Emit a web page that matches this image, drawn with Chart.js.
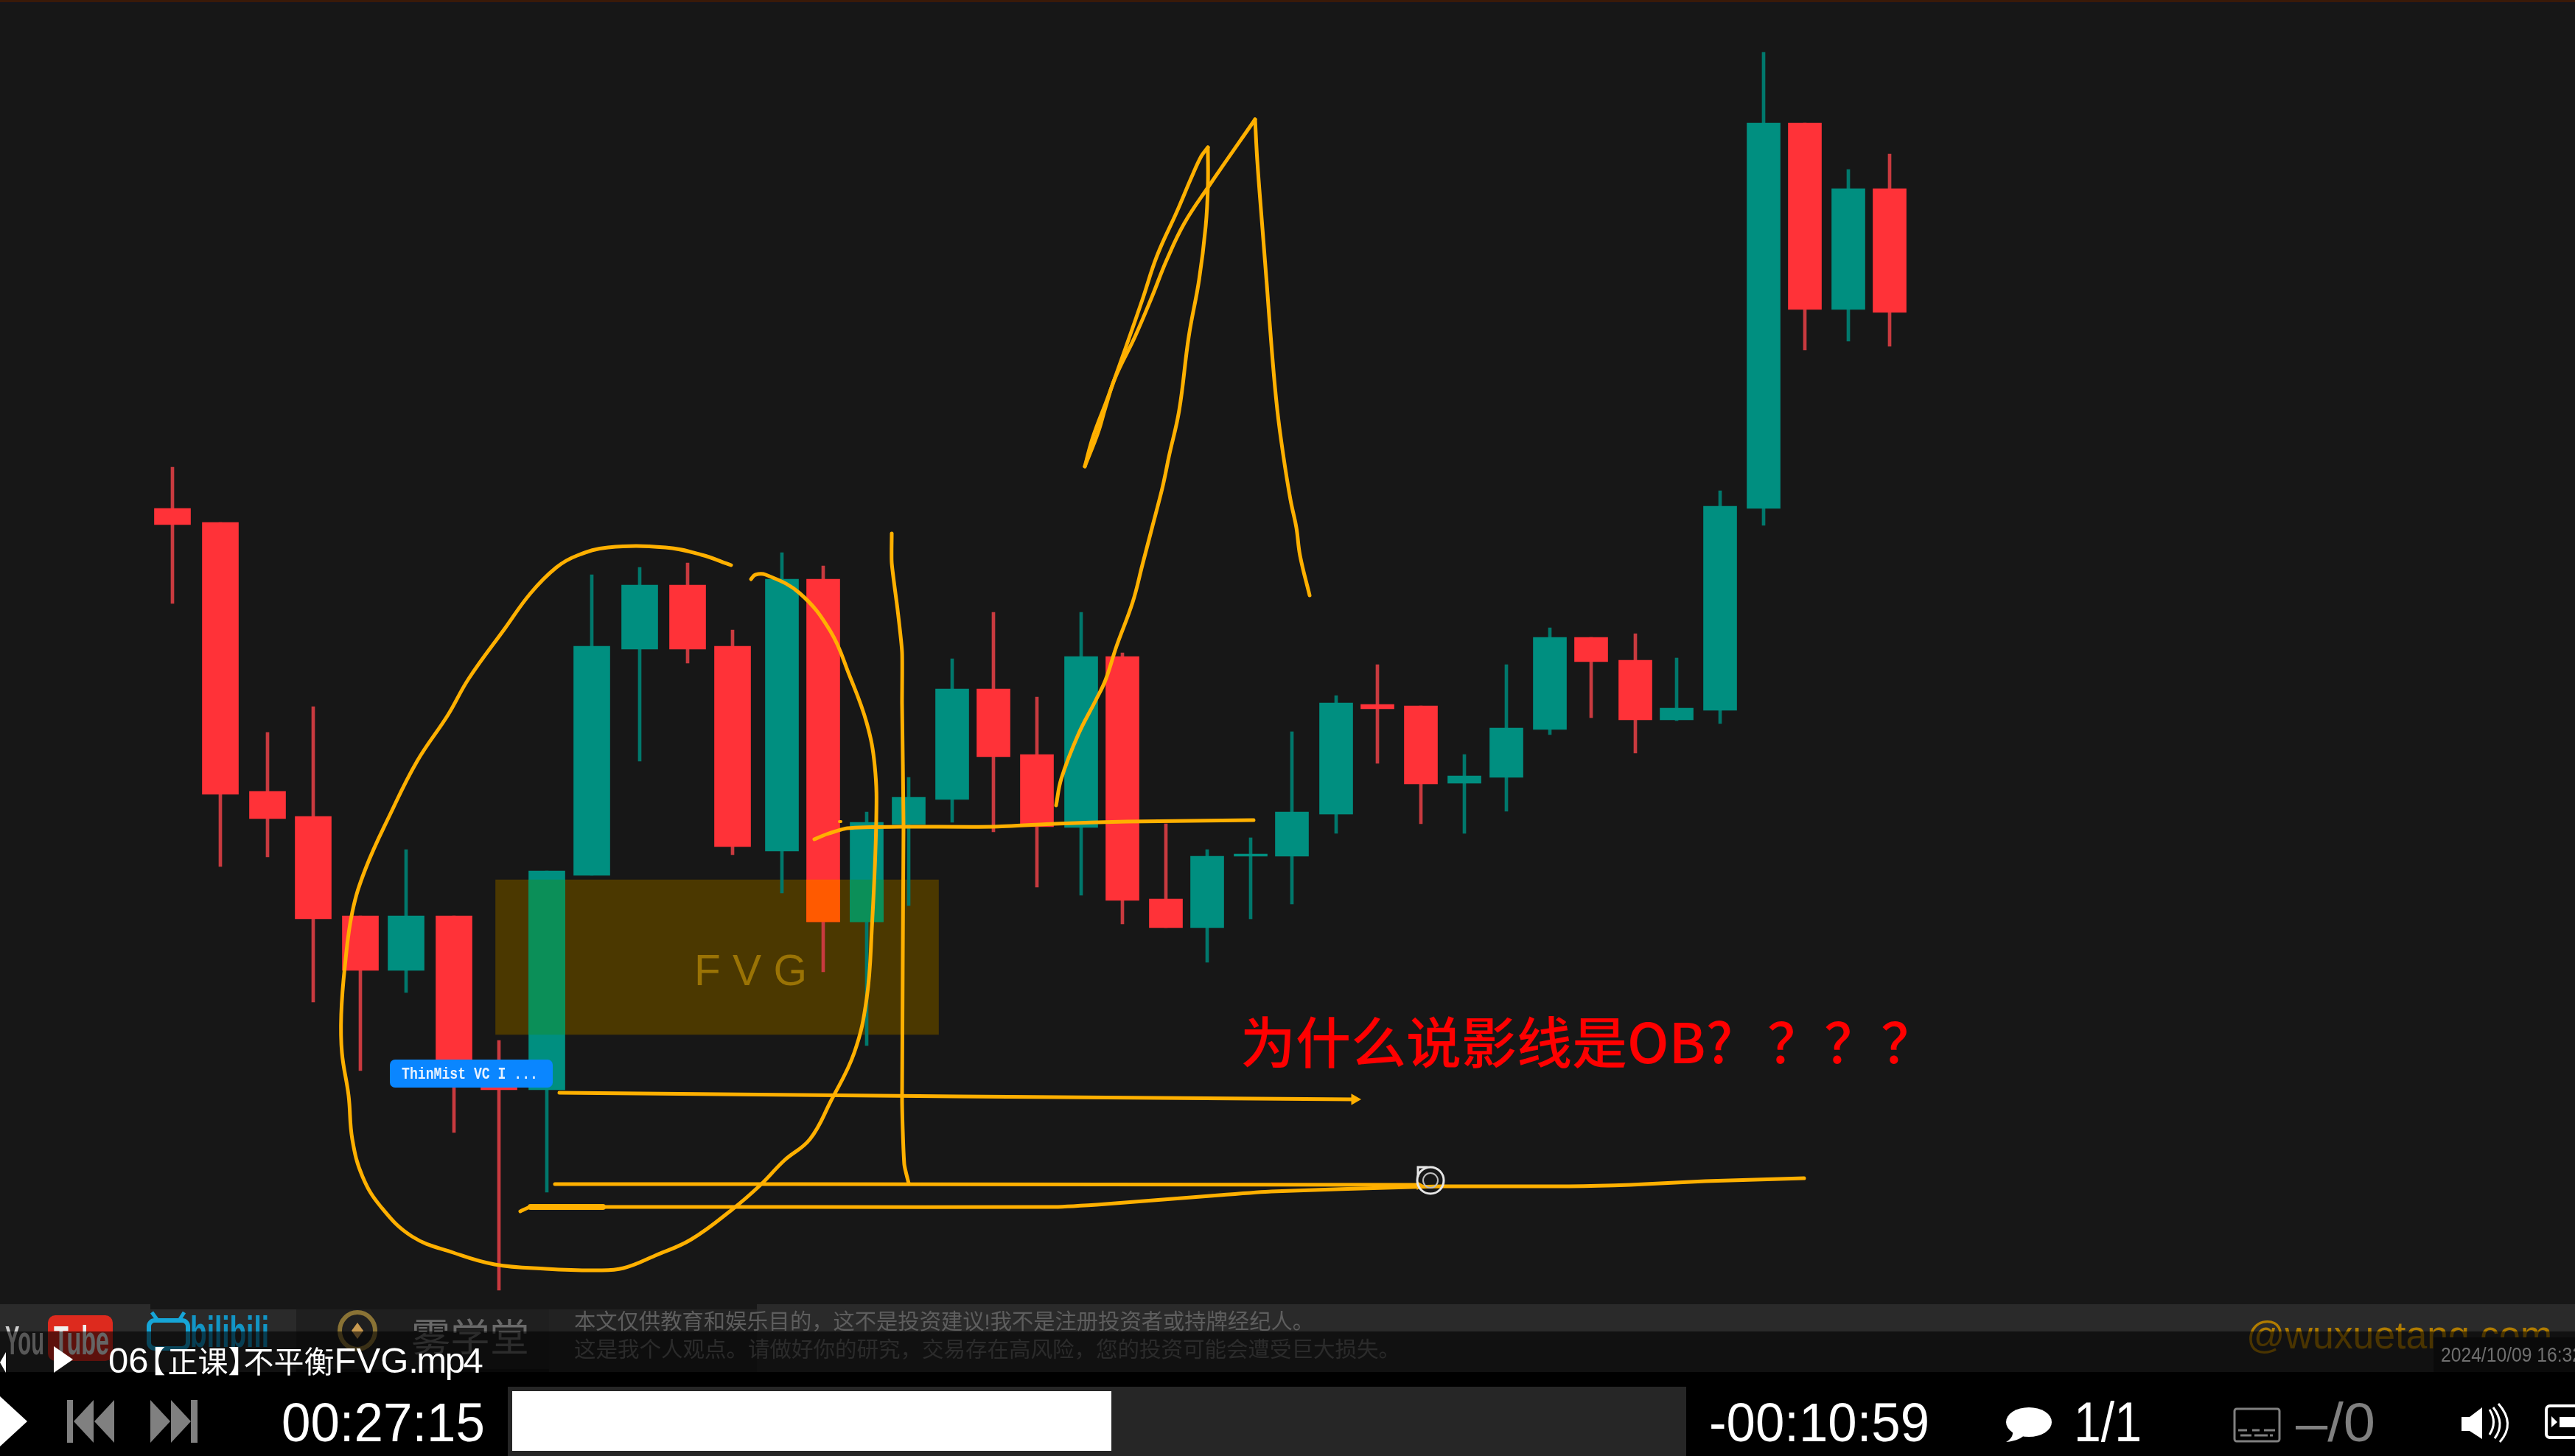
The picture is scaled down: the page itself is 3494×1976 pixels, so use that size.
<!DOCTYPE html>
<html lang="zh">
<head>
    <meta charset="UTF-8">
    <title>06【正课】不平衡FVG</title>
    <script src="https://cdn.jsdelivr.net/npm/chart.js@4/dist/chart.umd.js"></script>
    <style>
        html, body { margin: 0; padding: 0; background: #171717; overflow: hidden; width: 3494px; height: 1976px; }
        #kline { position: absolute; left: 0; top: 0; }
        #player { position: absolute; left: 0; top: 0; }
        #player text { font-family: "Liberation Sans", "Noto Sans CJK SC", sans-serif; }
    </style>
</head>
<body>
    <canvas id="kline" width="3494" height="1976"></canvas>

    <svg id="player" width="3494" height="1976" viewBox="0 0 3494 1976">
        <rect x="0" y="0" width="3494" height="3" fill="#3a1a08"/>
        <rect x="0" y="3" width="3494" height="2" fill="#14161e"/>

        <!-- labels on the chart -->
        <text x="942" y="1337" font-size="60" fill="#9a7305" textLength="153" lengthAdjust="spacingAndGlyphs">F V G</text>
        <text x="1683" y="1443" font-size="75" font-weight="500" fill="#ff0000" style="font-family:'Noto Sans CJK SC',sans-serif">为什么说影线是OB?<tspan x="2398" letter-spacing="2">？？？</tspan></text>
        <rect x="529" y="1438" width="221" height="38" rx="7" fill="#0a86ff"/>
        <text x="545" y="1464" font-size="22" font-weight="bold" fill="#e8f2ff" textLength="185" lengthAdjust="spacingAndGlyphs" style="font-family:'Liberation Mono',monospace">ThinMist VC I ...</text>
        <ellipse cx="1941" cy="1602" rx="18" ry="18" fill="none" stroke="#e6e6e6" stroke-width="3"/>
        <ellipse cx="1941" cy="1602" rx="10" ry="10" fill="none" stroke="#bdbdbd" stroke-width="2"/>
        <path d="M1924 1597 V1584 H1937" fill="none" stroke="#e6e6e6" stroke-width="3"/>

        <!-- logo strip behind the player title -->
        <rect x="0" y="1770" width="204" height="92" fill="#2b2b2b"/>
        <rect x="204" y="1777" width="198" height="85" fill="#2a2a2a"/>
        <rect x="402" y="1777" width="343" height="81" fill="#1f1f1f"/>
        <rect x="745" y="1777" width="282" height="85" fill="#222222"/>
        <rect x="1027" y="1770" width="2467" height="92" fill="#2a2a2a"/>

        <text x="7" y="1838" font-size="56" font-weight="bold" fill="#d0d0d0" textLength="53" lengthAdjust="spacingAndGlyphs">You</text>
        <rect x="65" y="1785" width="88" height="62" rx="10" fill="#dd2a1e"/>
        <text x="73" y="1838" font-size="56" font-weight="bold" fill="#f0f0f0" textLength="75" lengthAdjust="spacingAndGlyphs">Tube</text>

        <rect x="202" y="1792" width="53" height="38" rx="8" fill="none" stroke="#16a6d8" stroke-width="6"/>
        <path d="M214 1792 L206 1781 M243 1792 L250 1781" stroke="#16a6d8" stroke-width="5"/>
        <text x="258" y="1828" font-size="60" font-weight="bold" fill="#1295c5" textLength="107" lengthAdjust="spacingAndGlyphs">bilibili</text>

        <ellipse cx="485" cy="1806" rx="24" ry="25" fill="none" stroke="#8a7335" stroke-width="6"/>
        <polygon points="485,1795 493,1806 485,1817 477,1806" fill="#c89a50"/>
        <text x="558" y="1834" font-size="52" fill="#6a6a6a" textLength="160" lengthAdjust="spacingAndGlyphs">雾学堂</text>

        <text x="779" y="1804" font-size="29" fill="#5e5e5e" textLength="1004" lengthAdjust="spacingAndGlyphs">本文仅供教育和娱乐目的，这不是投资建议!我不是注册投资者或持牌经纪人。</text>
        <text x="779" y="1842" font-size="29" fill="#666666" textLength="1121" lengthAdjust="spacingAndGlyphs">这是我个人观点。请做好你的研究，交易存在高风险，您的投资可能会遭受巨大损失。</text>
        <text x="3048" y="1830" font-size="51" fill="#b07c00" textLength="415" lengthAdjust="spacingAndGlyphs">@wuxuetang.com</text>

        <!-- player bar -->
        <rect x="0" y="1807" width="3494" height="55" fill="#000000" fill-opacity="0.58"/>
        <rect x="3302" y="1815" width="192" height="47" fill="#0a0a0a"/>
        <text x="3312" y="1848" font-size="28" fill="#707070" textLength="192" lengthAdjust="spacingAndGlyphs">2024/10/09 16:32</text>
        <rect x="0" y="1862" width="3494" height="114" fill="#000000"/>

        <polygon points="8,1835 0,1849 8,1863" fill="#ffffff"/>
        <polygon points="73,1827 99,1845 73,1863" fill="#ffffff"/>
        <text x="147" y="1863" font-size="49" fill="#ffffff">06<tspan font-size="41" dx="-18">【</tspan><tspan font-size="41" dx="3">正课</tspan><tspan font-size="41">】</tspan><tspan font-size="41" dx="-20">不平衡</tspan>FVG<tspan letter-spacing="-2.5">.mp4</tspan></text>

        <polygon points="0,1895 37,1929 0,1963" fill="#ffffff"/>
        <g fill="#808080">
            <rect x="91" y="1900" width="8" height="58"/>
            <polygon points="127,1900 127,1958 100,1929"/>
            <polygon points="155,1900 155,1958 128,1929"/>
            <polygon points="204,1900 204,1958 231,1929"/>
            <polygon points="232,1900 232,1958 259,1929"/>
            <rect x="259" y="1900" width="9" height="58"/>
        </g>
        <text x="382" y="1956" font-size="74" fill="#ffffff" textLength="276" lengthAdjust="spacingAndGlyphs">00:27:15</text>

        <rect x="689" y="1882" width="1599" height="94" fill="#262626"/>
        <rect x="695" y="1888" width="813" height="81" fill="#ffffff"/>

        <text x="2319" y="1956" font-size="74" fill="#ffffff" textLength="299" lengthAdjust="spacingAndGlyphs">-00:10:59</text>
        <ellipse cx="2753" cy="1930" rx="31" ry="20" fill="#ffffff"/>
        <path d="M2730 1940 Q2734 1950 2722 1957 Q2742 1955 2748 1946 Z" fill="#ffffff"/>
        <text x="2814" y="1956" font-size="76" fill="#ffffff" textLength="92" lengthAdjust="spacingAndGlyphs">1/1</text>

        <rect x="3032" y="1912" width="61" height="44" rx="3" fill="none" stroke="#808080" stroke-width="3"/>
        <path d="M3037 1941 H3049 M3056 1941 H3066 M3072 1941 H3087 M3040 1948 H3055 M3059 1948 H3077 M3080 1948 H3084" stroke="#808080" stroke-width="3"/>
        <text x="3115" y="1956" font-size="74" fill="#808080" textLength="108" lengthAdjust="spacingAndGlyphs">–/0</text>

        <polygon points="3340,1923 3351,1923 3368,1910 3368,1953 3351,1942 3340,1942" fill="#ffffff"/>
        <path d="M3378 1913 Q3389 1930 3378 1947 M3383 1910 Q3400 1932 3385 1952 M3390 1905 Q3414 1932 3392 1957" fill="none" stroke="#ffffff" stroke-width="3"/>
        <rect x="3455" y="1908" width="60" height="43" rx="5" fill="none" stroke="#ffffff" stroke-width="4"/>
        <polygon points="3462,1922 3470,1930 3462,1937" fill="#ffffff"/>
        <rect x="3473" y="1923" width="30" height="14" fill="#ffffff"/>
    </svg>

    <script>
        // candles, read off the video frame. x is the bar position, prices have no printed axis
        const candleX = [234, 299, 363, 425, 489, 551, 616, 677, 742, 803, 868, 933, 994, 1061, 1117, 1176, 1233, 1292, 1348, 1407, 1467, 1523, 1582, 1638, 1697, 1753, 1813, 1869, 1928, 1987, 2044, 2103, 2159, 2219, 2275, 2334, 2393, 2449, 2508, 2564];
        const openP  = [1286, 1267, 902, 868, 733, 659, 733, 511, 497, 788, 1095, 1182, 1099, 821, 1190, 725, 857, 891, 1041, 952, 853, 1085, 756, 717, 814, 814, 871, 1020, 1018, 913, 921, 986, 1111, 1080, 999, 1012, 1286, 1809, 1556, 1720];
        const closeP = [1264, 898, 865, 729, 659, 733, 503, 497, 794, 1099, 1182, 1095, 827, 1190, 725, 860, 894, 1041, 949, 854, 1085, 754, 717, 814, 817, 874, 1022, 1014, 912, 923, 988, 1111, 1078, 999, 1015, 1289, 1809, 1556, 1720, 1552];
        const highP  = [1342, 1267, 982, 1017, 733, 823, 733, 564, 794, 1196, 1206, 1212, 1121, 1226, 1208, 874, 921, 1082, 1145, 1030, 1145, 1090, 858, 823, 839, 983, 1032, 1074, 1018, 952, 1074, 1124, 1111, 1116, 1083, 1310, 1905, 1809, 1746, 1767];
        const lowP   = [1157, 800, 813, 616, 523, 629, 439, 225, 358, 788, 943, 1076, 816, 764, 657, 557, 747, 860, 847, 772, 761, 722, 717, 670, 729, 749, 845, 940, 858, 845, 875, 979, 1002, 954, 998, 994, 1263, 1501, 1513, 1506];
        const wideCandles = 13; // the frame is stretched, the first bars come out wider

        // FVG zone
        const fvgCentre = 973;
        const fvgWidth = 601;
        const fvgLow = 572;
        const fvgHigh = 782;

        // hand drawn strokes
        const circleStroke = [[992,1209],[952,1223],[903,1233],[825,1233],[783,1222],[755,1206],[720,1171],[685,1123],[636,1055],[608,1006],[566,943],[529,870],[496,797],[478,738],[468,665],[463,599],[464,547],[473,489],[478,430],[492,379],[517,338],[559,298],[615,276],[671,260],[741,254],[811,252],[846,255],[889,272],[938,294],[994,335],[1032,368],[1064,401],[1099,430],[1127,481],[1159,547],[1176,621],[1183,716],[1189,863],[1187,936],[1176,995],[1152,1061],[1127,1119],[1085,1171],[1039,1196],[1025,1196],[1019,1190]];
        const peakLegA = [[1433,883],[1440,919],[1463,979],[1487,1026],[1500,1053],[1515,1099],[1537,1159],[1550,1209],[1563,1259],[1577,1313],[1582,1336],[1586,1356],[1600,1419],[1613,1519],[1627,1596],[1636,1669],[1639,1723],[1639,1776]];
        const peakLegB = [[1639,1776],[1630,1764],[1617,1736],[1597,1689],[1570,1629],[1550,1569],[1527,1503],[1503,1436],[1483,1383],[1472,1343]];
        const peakLegC = [[1472,1343],[1490,1389],[1500,1423],[1513,1463],[1540,1519],[1563,1573],[1583,1623],[1607,1673],[1640,1723],[1703,1814]];
        const peakLegD = [[1703,1814],[1706,1758],[1713,1666],[1719,1589],[1726,1497],[1733,1421],[1741,1360],[1751,1298],[1759,1260],[1764,1222],[1777,1168]];
        const verticalStroke = [[1210,1252],[1210,1212],[1218,1148],[1224,1091],[1224,1021],[1226,855],[1224,485],[1227,396],[1233,370]];
        const levelStroke = [[1105,837],[1122,844],[1150,852],[1220,854],[1347,854],[1431,858],[1529,861],[1701,863]];
        const dotStroke = [[1139,861],[1141,861]];
        const midArrow = [[759,493],[1300,488],[1838,484]];
        const lowArrow = [[753,369],[1080,369],[1921,368],[1926,367]];
        const bottomStroke = [[706,332],[720,338],[818,338],[1080,338],[1431,338],[1501,342],[1655,354],[1725,359],[1915,365],[1957,366],[2129,366],[2212,368],[2314,373],[2448,377]];
        const bottomThick = [[720,338],[818,338]];

        const upColor = '#008f80', downColor = '#ff3238';
        const upWick = '#00786c', downWick = '#c93a3f';
        const upZone = '#0b8f58', downZone = '#ff5a00';
        const penColor = '#ffb000';

        function bars(data, color, thickness, order) {
            return { type: 'bar', data: data, backgroundColor: color, barThickness: thickness, grouped: false, borderWidth: 0, order: order };
        }

        function stroke(points, width, tension, arrowEnd) {
            return {
                type: 'line',
                data: points.map(p => ({ x: p[0], y: p[1] })),
                borderColor: penColor,
                backgroundColor: penColor,
                borderWidth: width,
                borderCapStyle: 'round',
                borderJoinStyle: 'round',
                tension: tension,
                fill: false,
                pointStyle: 'triangle',
                pointRotation: 90,
                pointBorderWidth: 0,
                pointRadius: ctx => (arrowEnd && ctx.dataIndex === points.length - 1) ? arrowEnd : 0,
                order: 10
            };
        }

        const datasets = [bars([{ x: fvgCentre, y: [fvgLow, fvgHigh] }], '#4b3800', fvgWidth, 100)];

        function insideZone(i) {
            return Math.abs(candleX[i] - fvgCentre) < fvgWidth / 2
                && Math.min(openP[i], closeP[i]) < fvgHigh && Math.max(openP[i], closeP[i]) > fvgLow;
        }

        [true, false].forEach(isUp => {
            const idx = candleX.map((x, i) => i).filter(i => (closeP[i] >= openP[i]) === isUp);
            const body = i => ({ x: candleX[i], y: [openP[i], closeP[i]] });
            // wicks first, bodies on top
            datasets.push(bars(idx.map(i => ({ x: candleX[i], y: [lowP[i], highP[i]] })), isUp ? upWick : downWick, 4, 90));
            [idx.filter(i => i < wideCandles), idx.filter(i => i >= wideCandles)].forEach((group, n) => {
                const width = n === 0 ? 49 : 45;
                datasets.push(bars(group.map(body), isUp ? upColor : downColor, width, 80));
                // part of the body that sits inside the zone changes colour
                const inZone = group.filter(insideZone)
                    .map(i => ({ x: candleX[i], y: [Math.max(Math.min(openP[i], closeP[i]), fvgLow), Math.min(Math.max(openP[i], closeP[i]), fvgHigh)] }));
                datasets.push(bars(inZone, isUp ? upZone : downZone, width, 70));
            });
        });

        datasets.push(
            stroke(circleStroke, 5, 0.4),
            stroke(peakLegA, 5, 0.4),
            stroke(peakLegB, 5, 0.4),
            stroke(peakLegC, 5, 0.4),
            stroke(peakLegD, 5, 0.4),
            stroke(verticalStroke, 5, 0.2),
            stroke(levelStroke, 5, 0.2),
            stroke(dotStroke, 4, 0),
            stroke(midArrow, 5, 0, 9),
            stroke(lowArrow, 5, 0, 7),
            stroke(bottomStroke, 5, 0.2),
            stroke(bottomThick, 8, 0)
        );

        const klineChart = new Chart(document.getElementById('kline').getContext('2d'), {
            type: 'bar',
            data: { datasets: datasets },
            options: {
                responsive: false,
                devicePixelRatio: 1,
                animation: false,
                layout: { padding: 0, autoPadding: false },
                plugins: { legend: { display: false }, tooltip: { enabled: false } },
                scales: {
                    x: { type: 'linear', min: 0, max: 3494, offset: false, display: false },
                    y: { type: 'linear', min: 0, max: 1976, display: false }
                }
            }
        });
    </script>
</body>
</html>
